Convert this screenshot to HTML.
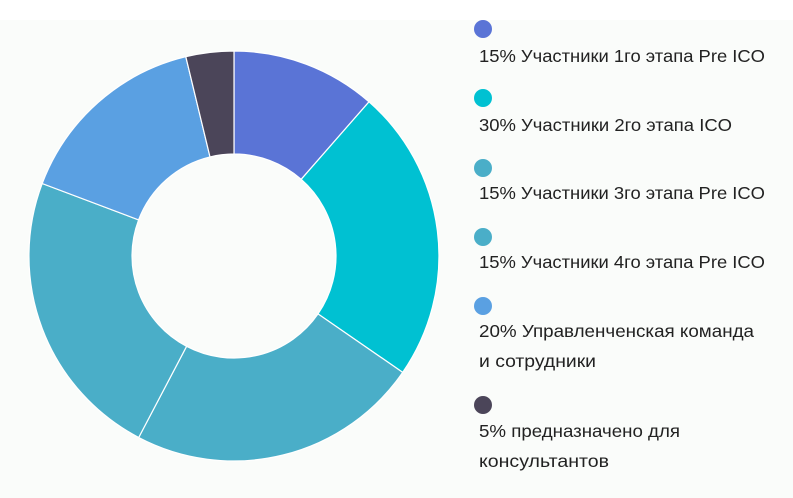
<!DOCTYPE html>
<html><head><meta charset="utf-8"><style>
html,body{margin:0;padding:0;background:#fff;}
svg{display:block;}
text{font-family:"Liberation Sans","DejaVu Sans",sans-serif;font-size:17.5px;fill:#222;}
</style></head><body>
<svg width="793" height="498" viewBox="0 0 793 498">
<rect x="0" y="20" width="793" height="478" fill="#fafcfa"/>
<g stroke="#fff" stroke-width="1.2">
<path d="M234,51 A205,205 0 0 1 369.0,101.8 L301.2,179.3 A102,102 0 0 0 234,154 Z" fill="#5a74d6"/>
<path d="M369.0,101.8 A205,205 0 0 1 402.7,372.4 L318.0,313.9 A102,102 0 0 0 301.2,179.3 Z" fill="#00c1d2"/>
<path d="M402.7,372.4 A205,205 0 0 1 138.7,437.5 L186.6,346.3 A102,102 0 0 0 318.0,313.9 Z" fill="#4aaec8"/>
<path d="M138.7,437.5 A205,205 0 0 1 42.2,183.5 L138.6,219.9 A102,102 0 0 0 186.6,346.3 Z" fill="#4aaec8"/>
<path d="M42.2,183.5 A205,205 0 0 1 185.8,56.7 L210.0,156.9 A102,102 0 0 0 138.6,219.9 Z" fill="#5aa0e2"/>
<path d="M185.8,56.7 A205,205 0 0 1 234,51 L234,154 A102,102 0 0 0 210.0,156.9 Z" fill="#4b4559"/>
</g>
<circle cx="483" cy="29" r="9" fill="#5a74d6"/>
<text x="479" y="62" textLength="286" lengthAdjust="spacingAndGlyphs">15% Участники 1го этапа Pre ICO</text>
<circle cx="483" cy="98" r="9" fill="#00c1d2"/>
<text x="479" y="131" textLength="253" lengthAdjust="spacingAndGlyphs">30% Участники 2го этапа ICO</text>
<circle cx="483" cy="168" r="9" fill="#4aaec8"/>
<text x="479" y="199" textLength="286" lengthAdjust="spacingAndGlyphs">15% Участники 3го этапа Pre ICO</text>
<circle cx="483" cy="237" r="9" fill="#4aaec8"/>
<text x="479" y="268" textLength="286" lengthAdjust="spacingAndGlyphs">15% Участники 4го этапа Pre ICO</text>
<circle cx="483" cy="306" r="9" fill="#5aa0e2"/>
<text x="479" y="337" textLength="275" lengthAdjust="spacingAndGlyphs">20% Управленченская команда</text>
<text x="479" y="367" textLength="117" lengthAdjust="spacingAndGlyphs">и сотрудники</text>
<circle cx="483" cy="405" r="9" fill="#4b4559"/>
<text x="479" y="437" textLength="201" lengthAdjust="spacingAndGlyphs">5% предназначено для</text>
<text x="479" y="467" textLength="130" lengthAdjust="spacingAndGlyphs">консультантов</text>
</svg>
</body></html>
